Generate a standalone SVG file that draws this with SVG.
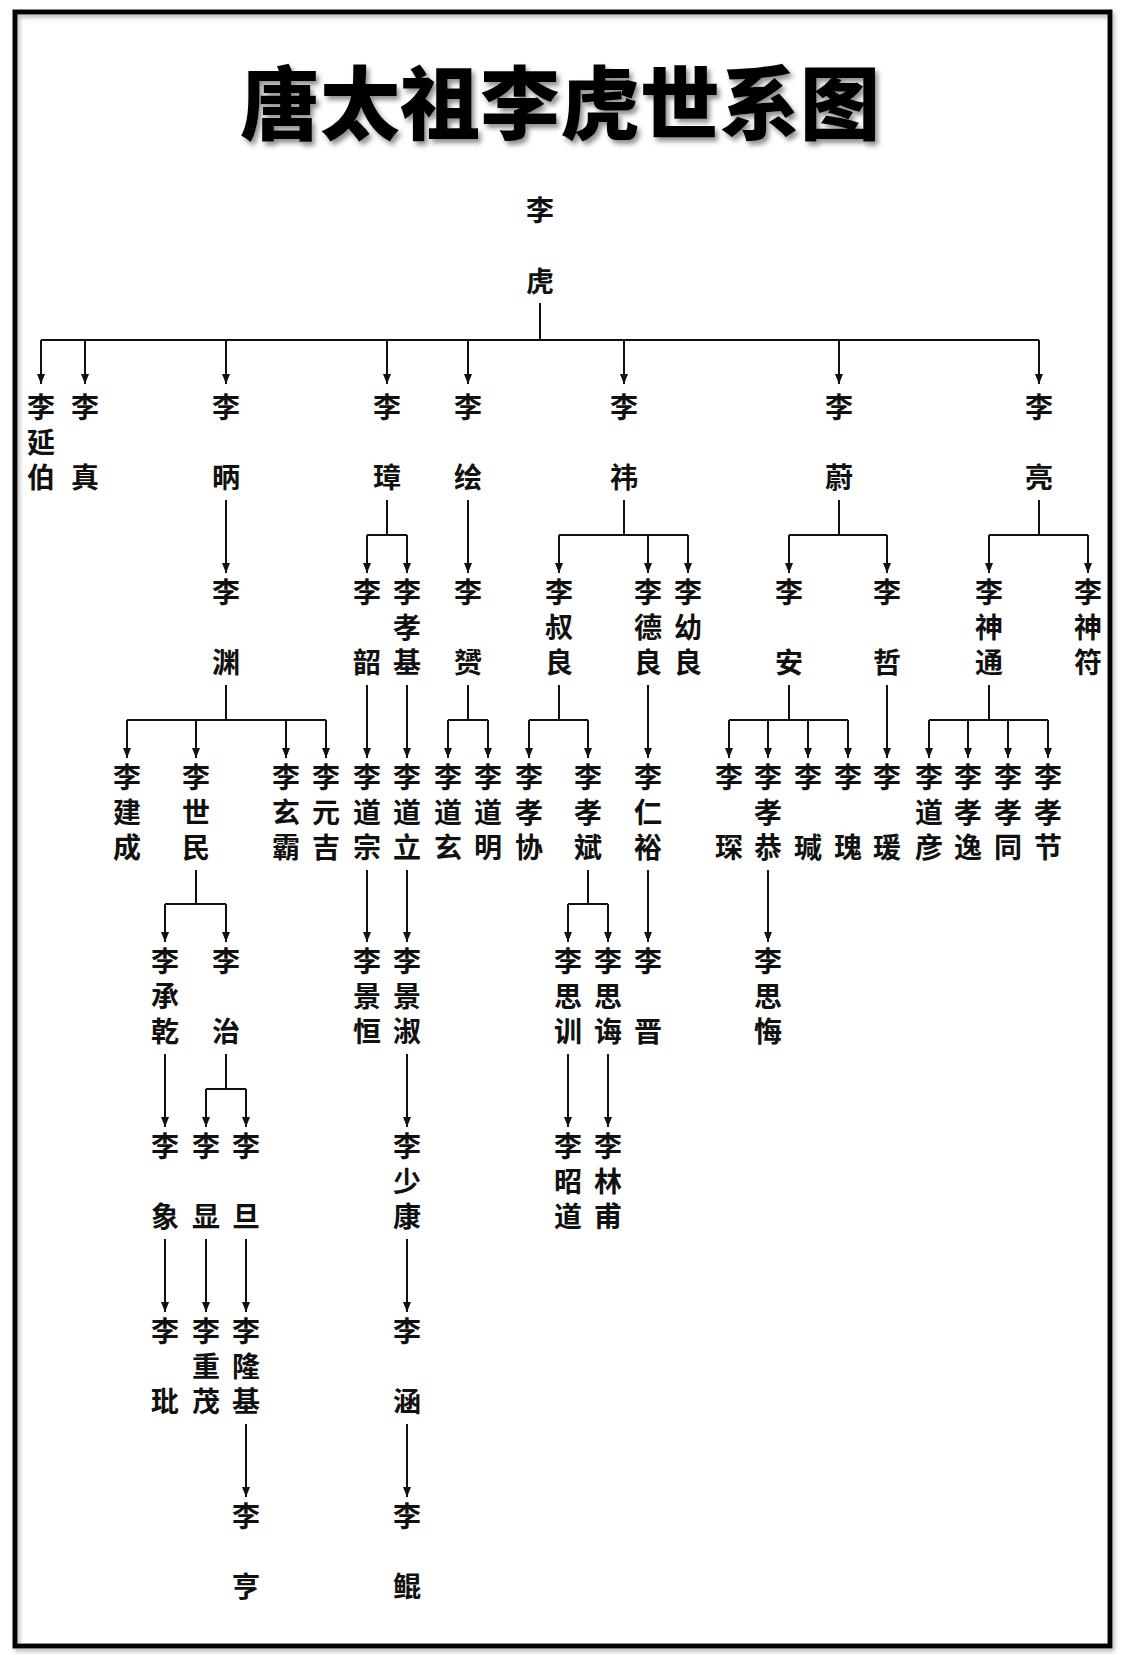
<svg xmlns="http://www.w3.org/2000/svg" width="1121" height="1655" viewBox="0 0 1121 1655">
<style>
.t{font-family:"Liberation Sans","Noto Sans CJK SC","Noto Sans CJK TC",sans-serif;font-size:80px;font-weight:900;fill:#000;text-anchor:middle}
.n{font-family:"Liberation Sans","Noto Sans CJK SC","Noto Sans CJK TC",sans-serif;font-size:28px;font-weight:700;fill:#111;text-anchor:middle}
.c{fill:none;stroke:#111;stroke-width:2;stroke-linejoin:round}
.a{marker-end:url(#ah)}
</style>
<defs>
<marker id="ah" viewBox="0 0 10 8" markerWidth="10" markerHeight="8" refX="10" refY="4" orient="auto" markerUnits="userSpaceOnUse">
<path d="M0,0 L10,4 L0,8 z" fill="#111"/>
</marker>
<filter id="sh" x="-10%" y="-30%" width="120%" height="160%">
<feDropShadow dx="3" dy="4" stdDeviation="2.5" flood-color="#444" flood-opacity="0.6"/>
</filter>
<filter id="fs" x="-5%" y="-5%" width="110%" height="110%">
<feDropShadow dx="2" dy="3" stdDeviation="2" flood-color="#888" flood-opacity="0.6"/>
</filter>
</defs>
<rect width="1121" height="1655" fill="#fff"/>
<rect id="frame" x="15" y="12" width="1095" height="1634" fill="none" stroke="#000" stroke-width="5" filter="url(#fs)"/>
<g id="title"><text class="t" x="560" y="133" filter="url(#sh)">唐太祖李虎世系图</text></g>

<g id="connectors">
<path class="c" d="M540,303 V340 M41,340 H1039"/>
<path class="c a" d="M41,340 V384"/><path class="c a" d="M85,340 V384"/><path class="c a" d="M226,340 V384"/><path class="c a" d="M387,340 V384"/><path class="c a" d="M468,340 V384"/><path class="c a" d="M624,340 V384"/><path class="c a" d="M839,340 V384"/><path class="c a" d="M1039,340 V384"/>

<path class="c a" d="M226,500 V573"/>
<path class="c" d="M387,500 V535 M367,535 H407"/><path class="c a" d="M367,535 V573"/><path class="c a" d="M407,535 V573"/>
<path class="c a" d="M468,500 V573"/>
<path class="c" d="M624,500 V535 M559,535 H688"/><path class="c a" d="M559,535 V573"/><path class="c a" d="M648,535 V573"/><path class="c a" d="M688,535 V573"/>
<path class="c" d="M839,500 V535 M789,535 H887"/><path class="c a" d="M789,535 V573"/><path class="c a" d="M887,535 V573"/>
<path class="c" d="M1039,500 V535 M989,535 H1088"/><path class="c a" d="M989,535 V573"/><path class="c a" d="M1088,535 V573"/>

<path class="c" d="M226,685 V720 M127,720 H326"/><path class="c a" d="M127,720 V758"/><path class="c a" d="M196,720 V758"/><path class="c a" d="M286,720 V758"/><path class="c a" d="M326,720 V758"/>
<path class="c a" d="M367,685 V758"/><path class="c a" d="M407,685 V758"/>
<path class="c" d="M468,685 V720 M448,720 H488"/><path class="c a" d="M448,720 V758"/><path class="c a" d="M488,720 V758"/>
<path class="c" d="M559,685 V720 M529,720 H588"/><path class="c a" d="M529,720 V758"/><path class="c a" d="M588,720 V758"/>
<path class="c a" d="M648,685 V758"/>
<path class="c" d="M789,685 V720 M729,720 H848"/><path class="c a" d="M729,720 V758"/><path class="c a" d="M768,720 V758"/><path class="c a" d="M808,720 V758"/><path class="c a" d="M848,720 V758"/>
<path class="c a" d="M887,685 V758"/>
<path class="c" d="M989,685 V720 M929,720 H1048"/><path class="c a" d="M929,720 V758"/><path class="c a" d="M968,720 V758"/><path class="c a" d="M1008,720 V758"/><path class="c a" d="M1048,720 V758"/>

<path class="c" d="M196,870 V904 M165,904 H226"/><path class="c a" d="M165,904 V942"/><path class="c a" d="M226,904 V942"/>
<path class="c a" d="M367,870 V942"/><path class="c a" d="M407,870 V942"/>
<path class="c" d="M588,870 V904 M568,904 H608"/><path class="c a" d="M568,904 V942"/><path class="c a" d="M608,904 V942"/>
<path class="c a" d="M648,870 V942"/>
<path class="c a" d="M768,870 V942"/>

<path class="c a" d="M165,1054 V1127"/>
<path class="c" d="M226,1054 V1089 M206,1089 H246"/><path class="c a" d="M206,1089 V1127"/><path class="c a" d="M246,1089 V1127"/>
<path class="c a" d="M407,1054 V1127"/>
<path class="c a" d="M568,1054 V1127"/><path class="c a" d="M608,1054 V1127"/>

<path class="c a" d="M165,1239 V1312"/><path class="c a" d="M206,1239 V1312"/><path class="c a" d="M246,1239 V1312"/><path class="c a" d="M407,1239 V1312"/>

<path class="c a" d="M246,1424 V1497"/><path class="c a" d="M407,1424 V1497"/>
</g>

<g id="n-hu"><text class="n"><tspan x="540" y="221">李</tspan><tspan x="540" y="292">虎</tspan></text></g>

<g id="n-yanbo"><text class="n"><tspan x="41" y="418">李</tspan><tspan x="41" y="453">延</tspan><tspan x="41" y="488">伯</tspan></text></g>
<g id="n-zhen"><text class="n"><tspan x="85" y="418">李</tspan><tspan x="85" y="488">真</tspan></text></g>
<g id="n-bing"><text class="n"><tspan x="226" y="418">李</tspan><tspan x="226" y="488">昞</tspan></text></g>
<g id="n-zhang"><text class="n"><tspan x="387" y="418">李</tspan><tspan x="387" y="488">璋</tspan></text></g>
<g id="n-hui"><text class="n"><tspan x="468" y="418">李</tspan><tspan x="468" y="488">绘</tspan></text></g>
<g id="n-yi"><text class="n"><tspan x="624" y="418">李</tspan><tspan x="624" y="488">祎</tspan></text></g>
<g id="n-wei"><text class="n"><tspan x="839" y="418">李</tspan><tspan x="839" y="488">蔚</tspan></text></g>
<g id="n-liang"><text class="n"><tspan x="1039" y="418">李</tspan><tspan x="1039" y="488">亮</tspan></text></g>

<g id="n-yuan"><text class="n"><tspan x="226" y="603">李</tspan><tspan x="226" y="673">渊</tspan></text></g>
<g id="n-shao"><text class="n"><tspan x="367" y="603">李</tspan><tspan x="367" y="673">韶</tspan></text></g>
<g id="n-xiaoji"><text class="n"><tspan x="407" y="603">李</tspan><tspan x="407" y="638">孝</tspan><tspan x="407" y="673">基</tspan></text></g>
<g id="n-yun"><text class="n"><tspan x="468" y="603">李</tspan><tspan x="468" y="673">赟</tspan></text></g>
<g id="n-shuliang"><text class="n"><tspan x="559" y="603">李</tspan><tspan x="559" y="638">叔</tspan><tspan x="559" y="673">良</tspan></text></g>
<g id="n-deliang"><text class="n"><tspan x="648" y="603">李</tspan><tspan x="648" y="638">德</tspan><tspan x="648" y="673">良</tspan></text></g>
<g id="n-youliang"><text class="n"><tspan x="688" y="603">李</tspan><tspan x="688" y="638">幼</tspan><tspan x="688" y="673">良</tspan></text></g>
<g id="n-an"><text class="n"><tspan x="789" y="603">李</tspan><tspan x="789" y="673">安</tspan></text></g>
<g id="n-zhe"><text class="n"><tspan x="887" y="603">李</tspan><tspan x="887" y="673">哲</tspan></text></g>
<g id="n-shentong"><text class="n"><tspan x="989" y="603">李</tspan><tspan x="989" y="638">神</tspan><tspan x="989" y="673">通</tspan></text></g>
<g id="n-shenfu"><text class="n"><tspan x="1088" y="603">李</tspan><tspan x="1088" y="638">神</tspan><tspan x="1088" y="673">符</tspan></text></g>

<g id="n-jiancheng"><text class="n"><tspan x="127" y="788">李</tspan><tspan x="127" y="823">建</tspan><tspan x="127" y="858">成</tspan></text></g>
<g id="n-shimin"><text class="n"><tspan x="196" y="788">李</tspan><tspan x="196" y="823">世</tspan><tspan x="196" y="858">民</tspan></text></g>
<g id="n-xuanba"><text class="n"><tspan x="286" y="788">李</tspan><tspan x="286" y="823">玄</tspan><tspan x="286" y="858">霸</tspan></text></g>
<g id="n-yuanji"><text class="n"><tspan x="326" y="788">李</tspan><tspan x="326" y="823">元</tspan><tspan x="326" y="858">吉</tspan></text></g>
<g id="n-daozong"><text class="n"><tspan x="367" y="788">李</tspan><tspan x="367" y="823">道</tspan><tspan x="367" y="858">宗</tspan></text></g>
<g id="n-daoli"><text class="n"><tspan x="407" y="788">李</tspan><tspan x="407" y="823">道</tspan><tspan x="407" y="858">立</tspan></text></g>
<g id="n-daoxuan"><text class="n"><tspan x="448" y="788">李</tspan><tspan x="448" y="823">道</tspan><tspan x="448" y="858">玄</tspan></text></g>
<g id="n-daoming"><text class="n"><tspan x="488" y="788">李</tspan><tspan x="488" y="823">道</tspan><tspan x="488" y="858">明</tspan></text></g>
<g id="n-xiaoxie"><text class="n"><tspan x="529" y="788">李</tspan><tspan x="529" y="823">孝</tspan><tspan x="529" y="858">协</tspan></text></g>
<g id="n-xiaobin"><text class="n"><tspan x="588" y="788">李</tspan><tspan x="588" y="823">孝</tspan><tspan x="588" y="858">斌</tspan></text></g>
<g id="n-renyu"><text class="n"><tspan x="648" y="788">李</tspan><tspan x="648" y="823">仁</tspan><tspan x="648" y="858">裕</tspan></text></g>
<g id="n-chen"><text class="n"><tspan x="729" y="788">李</tspan><tspan x="729" y="858">琛</tspan></text></g>
<g id="n-xiaogong"><text class="n"><tspan x="768" y="788">李</tspan><tspan x="768" y="823">孝</tspan><tspan x="768" y="858">恭</tspan></text></g>
<g id="n-jian"><text class="n"><tspan x="808" y="788">李</tspan><tspan x="808" y="858">瑊</tspan></text></g>
<g id="n-gui"><text class="n"><tspan x="848" y="788">李</tspan><tspan x="848" y="858">瑰</tspan></text></g>
<g id="n-yuan2"><text class="n"><tspan x="887" y="788">李</tspan><tspan x="887" y="858">瑗</tspan></text></g>
<g id="n-daoyan"><text class="n"><tspan x="929" y="788">李</tspan><tspan x="929" y="823">道</tspan><tspan x="929" y="858">彦</tspan></text></g>
<g id="n-xiaoyi"><text class="n"><tspan x="968" y="788">李</tspan><tspan x="968" y="823">孝</tspan><tspan x="968" y="858">逸</tspan></text></g>
<g id="n-xiaotong"><text class="n"><tspan x="1008" y="788">李</tspan><tspan x="1008" y="823">孝</tspan><tspan x="1008" y="858">同</tspan></text></g>
<g id="n-xiaojie"><text class="n"><tspan x="1048" y="788">李</tspan><tspan x="1048" y="823">孝</tspan><tspan x="1048" y="858">节</tspan></text></g>

<g id="n-chengqian"><text class="n"><tspan x="165" y="972">李</tspan><tspan x="165" y="1007">承</tspan><tspan x="165" y="1042">乾</tspan></text></g>
<g id="n-zhi"><text class="n"><tspan x="226" y="972">李</tspan><tspan x="226" y="1042">治</tspan></text></g>
<g id="n-jingheng"><text class="n"><tspan x="367" y="972">李</tspan><tspan x="367" y="1007">景</tspan><tspan x="367" y="1042">恒</tspan></text></g>
<g id="n-jingshu"><text class="n"><tspan x="407" y="972">李</tspan><tspan x="407" y="1007">景</tspan><tspan x="407" y="1042">淑</tspan></text></g>
<g id="n-sixun"><text class="n"><tspan x="568" y="972">李</tspan><tspan x="568" y="1007">思</tspan><tspan x="568" y="1042">训</tspan></text></g>
<g id="n-sihui"><text class="n"><tspan x="608" y="972">李</tspan><tspan x="608" y="1007">思</tspan><tspan x="608" y="1042">诲</tspan></text></g>
<g id="n-jin"><text class="n"><tspan x="648" y="972">李</tspan><tspan x="648" y="1042">晋</tspan></text></g>
<g id="n-sihui2"><text class="n"><tspan x="768" y="972">李</tspan><tspan x="768" y="1007">思</tspan><tspan x="768" y="1042">悔</tspan></text></g>

<g id="n-xiang"><text class="n"><tspan x="165" y="1157">李</tspan><tspan x="165" y="1227">象</tspan></text></g>
<g id="n-xian"><text class="n"><tspan x="206" y="1157">李</tspan><tspan x="206" y="1227">显</tspan></text></g>
<g id="n-dan"><text class="n"><tspan x="246" y="1157">李</tspan><tspan x="246" y="1227">旦</tspan></text></g>
<g id="n-shaokang"><text class="n"><tspan x="407" y="1157">李</tspan><tspan x="407" y="1192">少</tspan><tspan x="407" y="1227">康</tspan></text></g>
<g id="n-zhaodao"><text class="n"><tspan x="568" y="1157">李</tspan><tspan x="568" y="1192">昭</tspan><tspan x="568" y="1227">道</tspan></text></g>
<g id="n-linfu"><text class="n"><tspan x="608" y="1157">李</tspan><tspan x="608" y="1192">林</tspan><tspan x="608" y="1227">甫</tspan></text></g>

<g id="n-pin"><text class="n"><tspan x="165" y="1342">李</tspan><tspan x="165" y="1412">玭</tspan></text></g>
<g id="n-chongmao"><text class="n"><tspan x="206" y="1342">李</tspan><tspan x="206" y="1377">重</tspan><tspan x="206" y="1412">茂</tspan></text></g>
<g id="n-longji"><text class="n"><tspan x="246" y="1342">李</tspan><tspan x="246" y="1377">隆</tspan><tspan x="246" y="1412">基</tspan></text></g>
<g id="n-han"><text class="n"><tspan x="407" y="1342">李</tspan><tspan x="407" y="1412">涵</tspan></text></g>

<g id="n-heng"><text class="n"><tspan x="246" y="1527">李</tspan><tspan x="246" y="1597">亨</tspan></text></g>
<g id="n-kun"><text class="n"><tspan x="407" y="1527">李</tspan><tspan x="407" y="1597">鲲</tspan></text></g>
</svg>
